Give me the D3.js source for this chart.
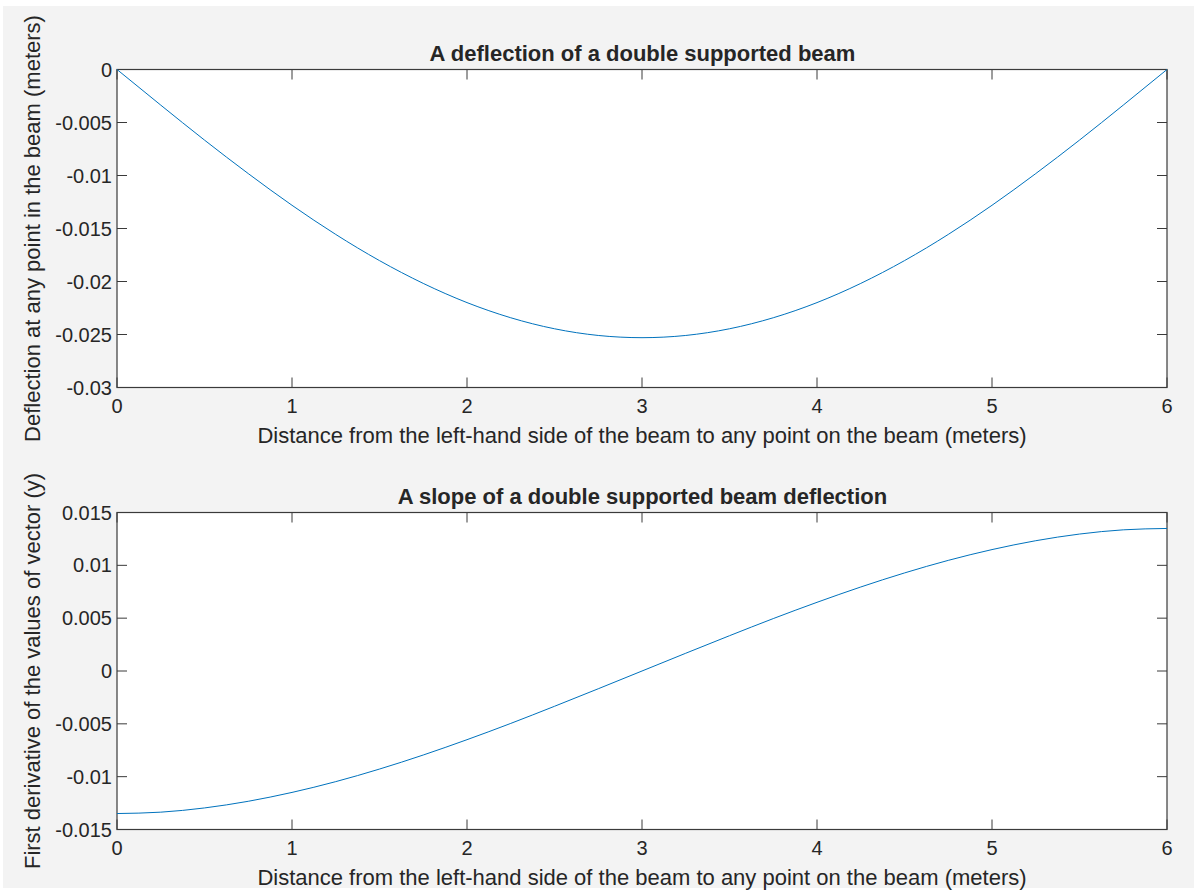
<!DOCTYPE html>
<html><head><meta charset="utf-8">
<script src="https://cdn.jsdelivr.net/npm/d3@7"></script>
<style>
html,body{margin:0;padding:0;background:#fff;}
svg{display:block;}
text{font-family:"Liberation Sans",Arial,Helvetica,sans-serif;fill:#262626;}
</style></head>
<body>
<svg id="chart" width="1194" height="890"></svg>
<script>
// Distance along the beam (meters)
const xValues = [0,0.25,0.5,0.75,1,1.25,1.5,1.75,2,2.25,2.5,2.75,3,3.25,3.5,3.75,4,4.25,4.5,4.75,5,5.25,5.5,5.75,6];
// Deflection (meters)
const deflection = [0,-0.00336,-0.00666,-0.00982,-0.01281,-0.01556,-0.01803,-0.02018,-0.02199,-0.02342,-0.02446,-0.02509,-0.02530,-0.02509,-0.02446,-0.02342,-0.02199,-0.02018,-0.01803,-0.01556,-0.01281,-0.00982,-0.00666,-0.00336,0];
// Slope (first derivative)
const slope = [-0.01349,-0.01336,-0.01296,-0.01233,-0.01149,-0.01047,-0.00928,-0.00795,-0.00650,-0.00496,-0.00334,-0.00168,0,0.00168,0.00334,0.00496,0.00650,0.00795,0.00928,0.01047,0.01149,0.01233,0.01296,0.01336,0.01349];

const xTicks = [0,1,2,3,4,5,6];
const yTicks1 = [0,-0.005,-0.01,-0.015,-0.02,-0.025,-0.03];
const yTickLabels1 = ["0","-0.005","-0.01","-0.015","-0.02","-0.025","-0.03"];
const yTicks2 = [0.015,0.01,0.005,0,-0.005,-0.01,-0.015];
const yTickLabels2 = ["0.015","0.01","0.005","0","-0.005","-0.01","-0.015"];

const titles = ["A deflection of a double supported beam","A slope of a double supported beam deflection"];
const xLabel = "Distance from the left-hand side of the beam to any point on the beam (meters)";
const yLabels = ["Deflection at any point in the beam (meters)","First derivative of the values of vector (y)"];

const svg = d3.select("#chart");
svg.append("rect").attr("x",3).attr("y",6).attr("width",1191).attr("height",882).attr("fill","#f3f3f3");

const left = 117, right = 1167;
const panels = [
  {top:69.5, bottom:387.5, domain:[-0.03,0], data:deflection, ticks:yTicks1, labels:yTickLabels1},
  {top:512.5, bottom:829.5, domain:[-0.015,0.015], data:slope, ticks:yTicks2, labels:yTickLabels2}
];

const axisColor = "#3a3a3a";
const tickFs = 20, labelFs = 22;

panels.forEach((p,i)=>{
  const x = d3.scaleLinear().domain([0,6]).range([left,right]);
  const y = d3.scaleLinear().domain(p.domain).range([p.bottom,p.top]);
  const g = svg.append("g");
  g.append("rect").attr("x",left).attr("y",p.top).attr("width",right-left).attr("height",p.bottom-p.top).attr("fill","#fff");

  const tickLen = 10;
  xTicks.forEach(t=>{
    g.append("line").attr("x1",x(t)).attr("x2",x(t)).attr("y1",p.bottom).attr("y2",p.bottom-tickLen).attr("stroke",axisColor);
    g.append("line").attr("x1",x(t)).attr("x2",x(t)).attr("y1",p.top).attr("y2",p.top+tickLen).attr("stroke",axisColor);
    g.append("text").attr("x",x(t)).attr("y",p.bottom+25.5).attr("text-anchor","middle").attr("font-size",tickFs).text(String(t));
  });
  p.ticks.forEach((t,j)=>{
    g.append("line").attr("x1",left).attr("x2",left+tickLen).attr("y1",y(t)).attr("y2",y(t)).attr("stroke",axisColor);
    g.append("line").attr("x1",right).attr("x2",right-tickLen).attr("y1",y(t)).attr("y2",y(t)).attr("stroke",axisColor);
    g.append("text").attr("x",left-5).attr("y",y(t)).attr("dy","0.35em").attr("text-anchor","end").attr("font-size",tickFs).text(p.labels[j]);
  });
  g.append("rect").attr("x",left).attr("y",p.top).attr("width",right-left).attr("height",p.bottom-p.top)
    .attr("fill","none").attr("stroke",axisColor).attr("stroke-width",1.2);

  const line = d3.line().x((d,k)=>x(xValues[k])).y(d=>y(d)).curve(d3.curveMonotoneX);
  g.append("path").datum(p.data).attr("d",line).attr("fill","none").attr("stroke","#0072BD").attr("stroke-width",1);

  g.append("text").attr("x",(left+right)/2 + 0.5).attr("y",p.top-8.5).attr("text-anchor","middle")
    .attr("font-size",labelFs).attr("font-weight","bold").attr("fill","#1a1a1a").text(titles[i]);
  g.append("text").attr("x",(left+right)/2).attr("y",p.bottom+55).attr("text-anchor","middle").attr("font-size",labelFs).text(xLabel);
  g.append("text").attr("transform",`translate(40,${(p.top+p.bottom)/2}) rotate(-90)`).attr("text-anchor","middle")
    .attr("font-size",labelFs).text(yLabels[i]);
});
</script>
</body></html>
